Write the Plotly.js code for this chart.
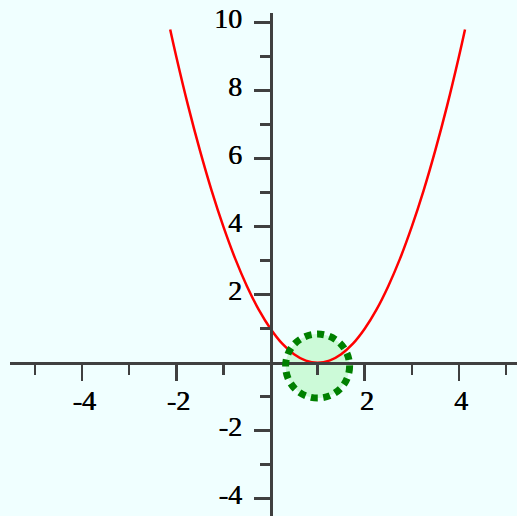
<!DOCTYPE html>
<html>
<head>
<meta charset="utf-8">
<script src="https://cdn.plot.ly/plotly-3.0.1.min.js"></script>
<style>html,body{margin:0;padding:0;background:#f0ffff;}</style>
</head>
<body>
<div id="chart" style="width:517px;height:516px;"></div>
<script>
// curve points
const curveX = [-2.13, -2, -1.75, -1.5, -1.25, -1, -0.75, -0.5, -0.25, 0, 0.25, 0.5, 0.75, 1,
                1.25, 1.5, 1.75, 2, 2.25, 2.5, 2.75, 3, 3.25, 3.5, 3.75, 4, 4.13];
const curveY = [9.8, 9.0, 7.56, 6.25, 5.06, 4.0, 3.06, 2.25, 1.56, 1.0, 0.56, 0.25, 0.06, 0,
                0.06, 0.25, 0.56, 1.0, 1.56, 2.25, 3.06, 4.0, 5.06, 6.25, 7.56, 9.0, 9.8];
// highlighted point
const markX = 1;
const markY = -0.1;
// tick values and labels
const xMajor = [-4, -2, 2, 4];
const xMajorText = ["-4", "-2", "2", "4"];
const xMinor = [-5, -3, -1, 1, 3, 5];
const yMajor = [-4, -2, 2, 4, 6, 8, 10];
const yMajorText = ["-4", "-2", "2", "4", "6", "8", "10"];
const yMinor = [-3, -1, 1, 3, 5, 7, 9];

const W = 517, H = 516;
const x0px = 270.5, y0px = 362.7, pxPerX = 47.1, pxPerY = 34;
const xLeftPx = 10, yTopPx = 13;
const xRange = [(xLeftPx - x0px) / pxPerX, (W - x0px) / pxPerX];
const yRange = [(y0px - H) / pxPerY, (y0px - yTopPx) / pxPerY];

const axisColor = '#404040';
const tickFont = {family: 'Liberation Serif', size: 28, color: '#000', shadow: '0.7px 0px 0px #000'};

const data = [{
  x: curveX, y: curveY, type: 'scatter', mode: 'lines',
  line: {color: '#ff0000', width: 2.5, shape: 'spline', smoothing: 1},
  hoverinfo: 'none'
}];

const layout = {
  width: W, height: H,
  margin: {l: 0, r: 0, t: 0, b: 0, pad: 0},
  paper_bgcolor: '#f0ffff', plot_bgcolor: '#f0ffff',
  showlegend: false,
  xaxis: {
    domain: [xLeftPx / W, 1], range: xRange,
    anchor: 'free', position: (H - y0px) / H,
    showgrid: false, zeroline: false,
    showline: true, linecolor: axisColor, linewidth: 3,
    tickmode: 'array', tickvals: xMajor, ticktext: xMajorText,
    ticks: 'outside', ticklen: 16, tickwidth: 2.5, tickcolor: axisColor,
    tickfont: tickFont, ticklabelstandoff: -4, ticklabelshift: 2,
    ticklabeloverflow: 'allow',
    minor: {tickmode: 'array', tickvals: xMinor, ticks: 'outside', ticklen: 10, tickwidth: 2.5, tickcolor: axisColor, showgrid: false}
  },
  yaxis: {
    domain: [0, 1 - yTopPx / H], range: yRange,
    anchor: 'free', position: x0px / W,
    showgrid: false, zeroline: false,
    showline: true, linecolor: axisColor, linewidth: 3,
    tickmode: 'array', tickvals: yMajor, ticktext: yMajorText,
    ticks: 'outside', ticklen: 16, tickwidth: 2.5, tickcolor: axisColor,
    tickfont: tickFont, ticklabelstandoff: 6, ticklabelshift: -5,
    ticklabeloverflow: 'allow',
    minor: {tickmode: 'array', tickvals: yMinor, ticks: 'outside', ticklen: 10, tickwidth: 2.5, tickcolor: axisColor, showgrid: false}
  },
  shapes: [
    {type: 'circle', xref: 'x', yref: 'y', xsizemode: 'pixel', ysizemode: 'pixel',
     xanchor: markX, yanchor: markY, x0: -32, x1: 32, y0: -32, y1: 32,
     fillcolor: 'rgba(60,230,60,0.2)', line: {width: 0}, layer: 'below'},
    {type: 'circle', xref: 'x', yref: 'y', xsizemode: 'pixel', ysizemode: 'pixel',
     xanchor: markX, yanchor: markY, x0: -32, x1: 32, y0: -32, y1: 32,
     fillcolor: 'rgba(0,0,0,0)', line: {color: '#008000', width: 7, dash: '7px,5.5px'}, layer: 'above'}
  ]
};

Plotly.newPlot('chart', data, layout, {staticPlot: true, displayModeBar: false});
</script>
</body>
</html>
